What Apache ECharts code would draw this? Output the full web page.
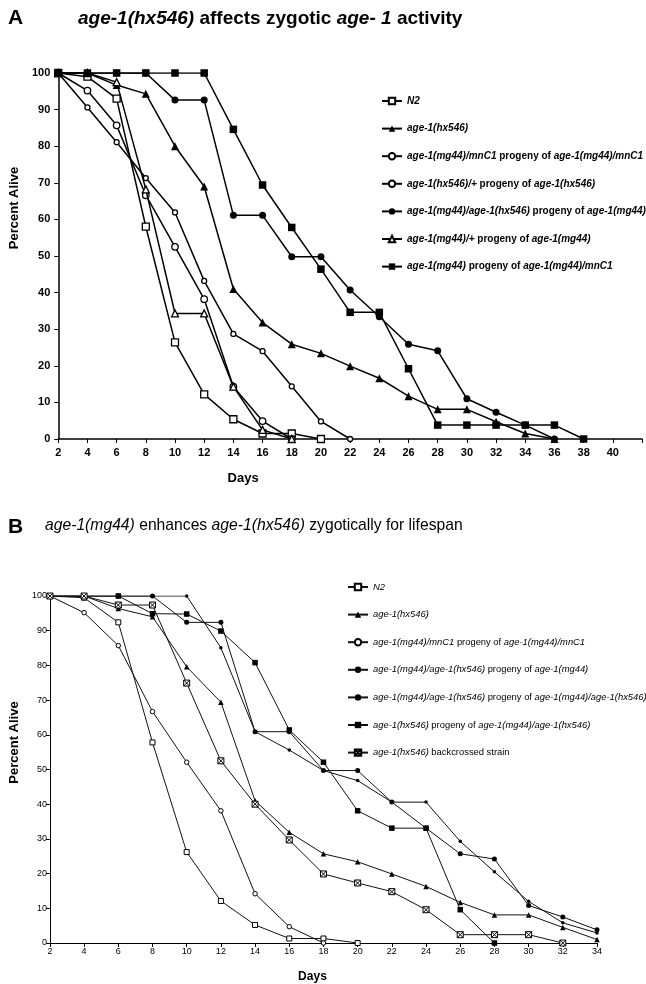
<!DOCTYPE html>
<html>
<head>
<meta charset="utf-8">
<script src="https://cdn.jsdelivr.net/npm/echarts@6/dist/echarts.min.js"></script>
<style>
  html, body { margin: 0; padding: 0; background: #fff; }
  #main { width: 646px; height: 984px; }
</style>
</head>
<body>
<div id="main"></div>
<script>
// Panel A — age-1(hx546) affects zygotic age-1 activity
const daysA = [2, 4, 6, 8, 10, 12, 14, 16, 18, 20, 22, 24, 26, 28, 30, 32, 34, 36, 38];
const a_n2       = [100, 99, 93, 58, 26.4, 12.2, 5.4, 1.5, 1.5, 0];
const a_hx546    = [100, 100, 96.7, 94.3, 80, 69, 41, 31.8, 25.9, 23.4, 19.9, 16.6, 11.7, 8.1, 8.1, 4.7, 1.5, 0];
const a_mnC1     = [100, 95.2, 85.7, 66.6, 52.5, 38.2, 14.3, 4.9, 0];
const a_hxPlus   = [100, 90.6, 81.1, 71.3, 61.9, 43.2, 28.7, 24.0, 14.4, 4.8, 0];
const a_mgHx     = [100, 100, 100, 100, 92.6, 92.6, 61.1, 61.1, 49.8, 49.8, 40.7, 33.4, 25.9, 24.1, 11.0, 7.3, 3.8, 0];
const a_mgPlus   = [100, 100, 97.5, 68.2, 34.3, 34.3, 14.3, 2.5, 0];
const a_mg44     = [100, 100, 100, 100, 100, 100, 84.6, 69.4, 57.8, 46.4, 34.6, 34.6, 19.2, 3.8, 3.8, 3.8, 3.8, 3.8, 0];

// Panel B — age-1(mg44) enhances age-1(hx546) zygotically for lifespan
const daysB = [2, 4, 6, 8, 10, 12, 14, 16, 18, 20, 22, 24, 26, 28, 30, 32, 34];
const b_n2       = [100, 99.5, 92.4, 57.8, 26.2, 12.1, 5.2, 1.3, 1.3, 0];
const b_hx546    = [100, 100, 96.4, 94, 79.6, 69.4, 41, 31.9, 25.7, 23.4, 19.9, 16.3, 11.7, 8.1, 8.1, 4.5, 1.0];
const b_mnC1     = [100, 95.2, 85.7, 66.7, 52.1, 38.1, 14.2, 4.7, 0];
const b_mgHx     = [100, 100, 100, 100, 92.4, 92.4, 60.9, 60.9, 49.7, 49.7, 40.6, 33.1, 25.7, 24.2, 10.8, 7.5, 3.8];
const b_mgHxHx   = [100, 100, 100, 100, 100, 85.1, 60.9, 55.6, 49.7, 46.8, 40.6, 40.6, 29.3, 20.5, 12.0, 5.8, 2.9];
const b_hxMgHx   = [100, 100, 100, 94.9, 94.8, 89.9, 80.8, 61.4, 52.1, 38.1, 33.1, 33.1, 9.6, 0];
const b_backx    = [100, 100, 97.4, 97.4, 74.9, 52.5, 40.0, 29.7, 19.9, 17.3, 14.8, 9.6, 2.4, 2.4, 2.4, 0];

const legendA = [
  '{i|N2}',
  '{i|age-1(hx546)}',
  '{i|age-1(mg44)/mnC1} progeny of {i|age-1(mg44)/mnC1}',
  '{i|age-1(hx546)/+} progeny of {i|age-1(hx546)}',
  '{i|age-1(mg44)/age-1(hx546)} progeny of {i|age-1(mg44)}',
  '{i|age-1(mg44)/+} progeny of {i|age-1(mg44)}',
  '{i|age-1(mg44)} progeny of {i|age-1(mg44)/mnC1}'
];
const legendB = [
  '{i|N2}',
  '{i|age-1(hx546)}',
  '{i|age-1(mg44)/mnC1} progeny of {i|age-1(mg44)/mnC1}',
  '{i|age-1(mg44)/age-1(hx546)} progeny of {i|age-1(mg44)}',
  '{i|age-1(mg44)/age-1(hx546)} progeny of {i|age-1(mg44)/age-1(hx546)}',
  '{i|age-1(hx546)} progeny of {i|age-1(mg44)/age-1(hx546)}',
  '{i|age-1(hx546)} backcrossed strain'
];

const SANS = "'Liberation Sans', Arial, sans-serif";

function zip(days, vals) {
  return vals.map(function (v, i) { return [days[i], v]; });
}

const BOWTIE = 'path://M0 0H10V10H0Z M0 0L10 10 M10 0L0 10';

// [values, symbol, size, open?]
const specA = [
  [a_n2,     'rect',     7,   true],
  [a_hx546,  'triangle', 8,   false],
  [a_mnC1,   'circle',   6.5, true],
  [a_hxPlus, 'circle',   5,   true],
  [a_mgHx,   'circle',   7,   false],
  [a_mgPlus, 'triangle', 7,   true],
  [a_mg44,   'rect',     7.5, false]
];
const specB = [
  [b_n2,     'rect',     5,   true],
  [b_hx546,  'triangle', 5.5, false],
  [b_mnC1,   'circle',   4.5, true],
  [b_mgHx,   'circle',   5,   false],
  [b_mgHxHx, 'circle',   3.5, false],
  [b_hxMgHx, 'rect',     5.5, false],
  [b_backx,  BOWTIE,     6,   true]
];

const namesA = legendA.map(function (t, i) { return 'A' + i; });
const namesB = legendB.map(function (t, i) { return 'B' + i; });
const labelOf = {};
namesA.forEach(function (n, i) { labelOf[n] = legendA[i]; });
namesB.forEach(function (n, i) { labelOf[n] = legendB[i]; });

const series = [];
specA.forEach(function (s, i) {
  series.push({
    name: namesA[i], type: 'line', xAxisIndex: 0, yAxisIndex: 0,
    data: zip(daysA, s[0]), symbol: s[1], symbolSize: s[2], showAllSymbol: true,
    lineStyle: { color: '#000', width: 1.5 },
    itemStyle: { color: s[3] ? '#fff' : '#000', borderColor: '#000', borderWidth: s[3] ? 1.3 : 0 },
    emphasis: { disabled: true }, animation: false, z: 2 + i
  });
});
specB.forEach(function (s, i) {
  series.push({
    name: namesB[i], type: 'line', xAxisIndex: 1, yAxisIndex: 1,
    data: zip(daysB, s[0]), symbol: s[1], symbolSize: s[2], showAllSymbol: true,
    lineStyle: { color: '#111', width: 1 },
    itemStyle: { color: s[3] ? '#fff' : '#000', borderColor: '#000', borderWidth: s[3] ? 1 : 0 },
    emphasis: { disabled: true }, animation: false, z: 2 + i
  });
});

function xAxis(idx, max, bold, size, gap, nameGap, namePad) {
  return {
    type: 'value', gridIndex: idx, min: 2, max: max, interval: 2,
    name: 'Days', nameLocation: 'middle', nameGap: nameGap,
    nameTextStyle: { fontFamily: SANS, fontWeight: 'bold', fontSize: idx ? 12 : 13, color: '#000', padding: namePad },
    axisLine: { lineStyle: { color: '#000', width: idx ? 1 : 1.5 } },
    axisTick: { show: true, length: 4, lineStyle: { color: '#000' } },
    axisLabel: {
      margin: gap, color: '#000', fontFamily: SANS, fontSize: size, fontWeight: bold ? 'bold' : 'normal',
      formatter: function (v) { return v > 40 ? '' : String(v); }
    },
    splitLine: { show: false }
  };
}
function yAxis(idx, bold, size, gap, nameGap, namePad) {
  return {
    type: 'value', gridIndex: idx, min: 0, max: 100, interval: 10,
    name: 'Percent Alive', nameLocation: 'middle', nameGap: nameGap,
    nameTextStyle: { fontFamily: SANS, fontWeight: 'bold', fontSize: 13, color: '#000', padding: namePad },
    axisLine: { show: true, lineStyle: { color: '#000', width: idx ? 1 : 1.5 } },
    axisTick: { show: true, length: 4, lineStyle: { color: '#000' } },
    axisLabel: { margin: gap, color: '#000', fontFamily: SANS, fontSize: size, fontWeight: bold ? 'bold' : 'normal' },
    splitLine: { show: false }
  };
}

function legend(names, left, top, bold, size) {
  const w = bold ? 'bold' : 'normal';
  return {
    orient: 'vertical', left: left, top: top, padding: 0,
    itemWidth: 20, itemHeight: 8, itemGap: 13.6,
    data: names, selectedMode: false,
    formatter: function (n) { return labelOf[n]; },
    textStyle: {
      fontFamily: SANS, fontSize: size, fontWeight: w, color: '#000', lineHeight: 14,
      rich: { i: { fontFamily: SANS, fontSize: size, fontWeight: w, fontStyle: 'italic', color: '#000', lineHeight: 14 } }
    }
  };
}

const chart = echarts.init(document.getElementById('main'), null, { renderer: 'canvas' });
chart.setOption({
  backgroundColor: '#fff',
  animation: false,
  title: [
    { text: 'A', left: 8, top: 8, padding: 0, textStyle: { fontFamily: SANS, fontWeight: 'bold', fontSize: 21, color: '#000' } },
    { text: '{i|age-1(hx546)} affects zygotic {i|age- 1} activity', left: 78, top: 9, padding: 0,
      textStyle: { fontFamily: SANS, fontWeight: 'bold', fontSize: 19, color: '#000',
        rich: { i: { fontFamily: SANS, fontWeight: 'bold', fontStyle: 'italic', fontSize: 19, color: '#000' } } } },
    { text: 'B', left: 8, top: 517, padding: 0, textStyle: { fontFamily: SANS, fontWeight: 'bold', fontSize: 21, color: '#000' } },
    { text: '{i|age-1(mg44)} enhances {i|age-1(hx546)} zygotically for lifespan', left: 45, top: 518, padding: 0,
      textStyle: { fontFamily: SANS, fontWeight: 'normal', fontSize: 15.7, color: '#000',
        rich: { i: { fontFamily: SANS, fontWeight: 'normal', fontStyle: 'italic', fontSize: 15.7, color: '#000' } } } }
  ],
  legend: [legend(namesA, 381, 94, true, 10), legend(namesB, 347, 580, false, 9.4)],
  grid: [
    { left: 58, top: 73, width: 584, height: 366 },
    { left: 42, top: 596, width: 555, height: 347 }
  ],
  xAxis: [xAxis(0, 42, true, 11, 8, 33, [0, 214, 0, 0]), xAxis(1, 34, false, 9, 4, 28, [0, 22, 0, 0])],
  yAxis: [yAxis(0, true, 11, 8, 36, [0, 0, 0, 96]), yAxis(1, false, 9, 3, 22, [0, 0, 0, 54])],
  series: series
});
</script>
</body>
</html>
